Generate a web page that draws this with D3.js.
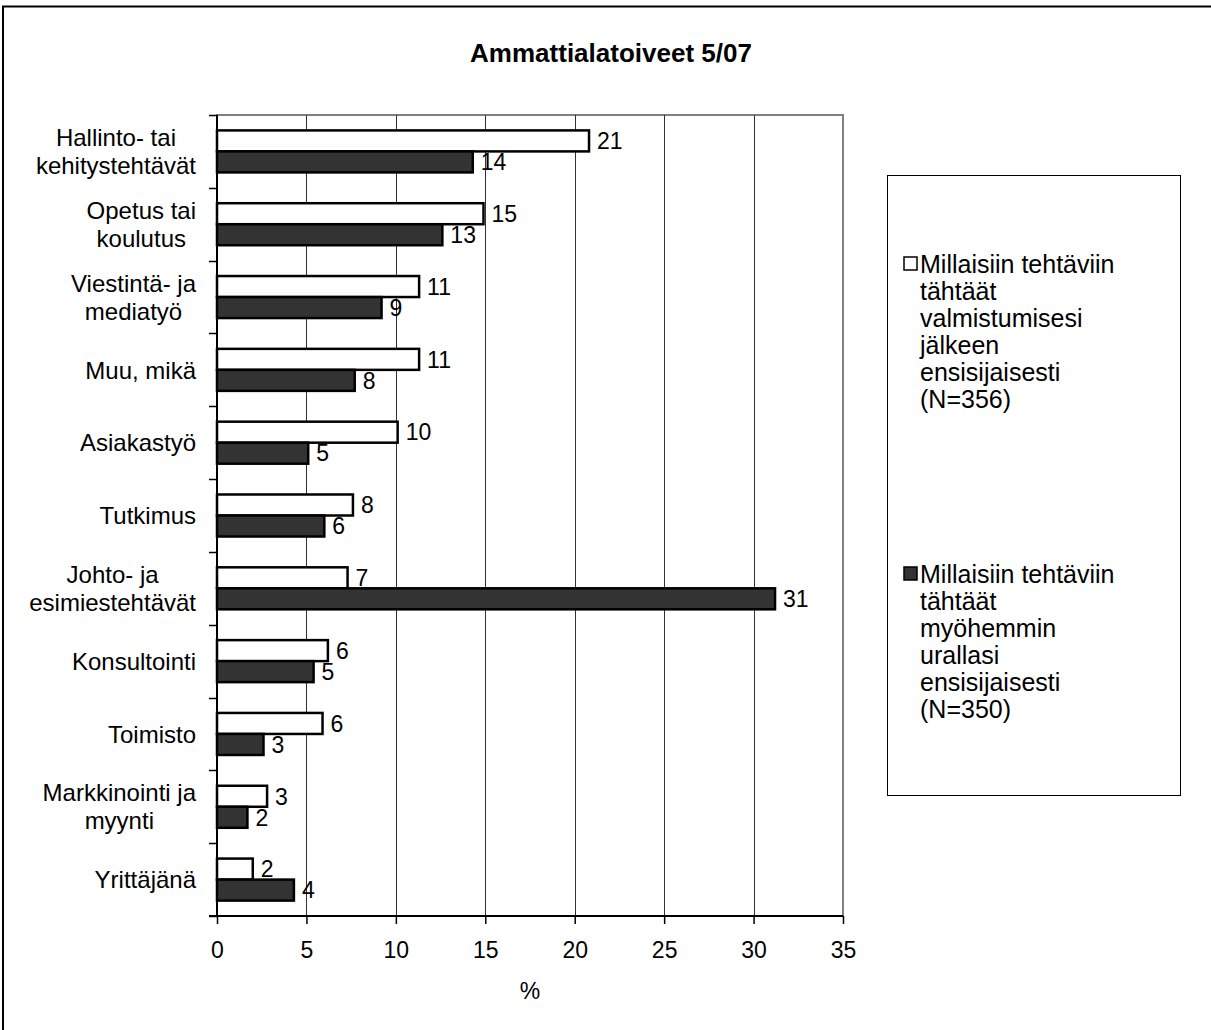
<!DOCTYPE html>
<html>
<head>
<meta charset="utf-8">
<script src="https://cdn.jsdelivr.net/npm/d3@7"></script>
<style>
  html, body { margin: 0; padding: 0; background: #fff; }
  svg { display: block; font-family: Arial, "Liberation Sans", sans-serif; }
</style>
</head>
<body>
<svg id="chart" width="1211" height="1030"></svg>
<script>
// ---- data ----
const categories = [
  ["Hallinto- tai", "kehitystehtävät"],
  ["Opetus tai", "koulutus"],
  ["Viestintä- ja", "mediatyö"],
  ["Muu, mikä"],
  ["Asiakastyö"],
  ["Tutkimus"],
  ["Johto- ja", "esimiestehtävät"],
  ["Konsultointi"],
  ["Toimisto"],
  ["Markkinointi ja", "myynti"],
  ["Yrittäjänä"]
];
const seriesNames = [
  ["Millaisiin tehtäviin", "tähtäät", "valmistumisesi", "jälkeen", "ensisijaisesti", "(N=356)"],
  ["Millaisiin tehtäviin", "tähtäät", "myöhemmin", "urallasi", "ensisijaisesti", "(N=350)"]
];
const valuesGraduation = [20.8, 14.9, 11.3, 11.3, 10.1, 7.6, 7.3, 6.2, 5.9, 2.8, 2.0];
const valuesLater      = [14.3, 12.6, 9.2, 7.7, 5.1, 6.0, 31.2, 5.4, 2.6, 1.7, 4.3];
const xTicks = [0, 5, 10, 15, 20, 25, 30, 35];
const title = "Ammattialatoiveet 5/07";
const xTitle = "%";

// ---- layout ----
const svg = d3.select("#chart");
const W = 1211, H = 1030;
const plot = { left: 217, right: 843, top: 115, bottom: 916 };
const FS = 23, FS_CAT = 24, FS_LEG = 25;

// outer frame
svg.append("rect").attr("x", 3).attr("y", 6.5).attr("width", W + 20).attr("height", H + 20)
  .attr("fill", "none").attr("stroke", "#000").attr("stroke-width", 2);

// title
svg.append("text").attr("x", 611).attr("y", 62).attr("text-anchor", "middle")
  .attr("font-size", 26).attr("font-weight", "bold").text(title);

const catKeys = categories.map(c => c.join(" "));
const x = d3.scaleLinear().domain([0, 35]).range([plot.left, plot.right]);
const y0 = d3.scaleBand().domain(catKeys).range([plot.top, plot.bottom]).padding(0);
const y1 = d3.scaleBand().domain([0, 1]).range([0, y0.bandwidth()]).paddingInner(0).paddingOuter(0.733);

// plot area border
svg.append("rect").attr("x", plot.left).attr("y", plot.top)
  .attr("width", plot.right - plot.left).attr("height", plot.bottom - plot.top)
  .attr("fill", "#fff").attr("stroke", "#808080").attr("stroke-width", 2);

// gridlines
svg.append("g").selectAll("line").data(xTicks.filter(t => t > 0 && t < 35)).join("line")
  .attr("x1", d => Math.round(x(d)) + 0.5).attr("x2", d => Math.round(x(d)) + 0.5)
  .attr("y1", plot.top).attr("y2", plot.bottom)
  .attr("stroke", "#333").attr("stroke-width", 1);

// x axis
const xAxis = svg.append("g").attr("transform", `translate(0,${plot.bottom})`)
  .call(d3.axisBottom(x).tickValues(xTicks).tickSize(8).tickPadding(18).tickFormat(d3.format("d")));
xAxis.select(".domain").attr("stroke", "#000").attr("stroke-width", 2).attr("d", `M${plot.left - 8},0H${plot.right}`);
xAxis.selectAll(".tick line").attr("stroke", "#000").attr("stroke-width", 1.5);
xAxis.selectAll(".tick text").attr("font-size", FS).attr("font-family", "Arial, 'Liberation Sans', sans-serif").attr("fill", "#000");

// y axis line and category ticks
svg.append("line").attr("x1", plot.left).attr("x2", plot.left).attr("y1", plot.top).attr("y2", plot.bottom)
  .attr("stroke", "#000").attr("stroke-width", 2);
const boundaries = catKeys.map(k => y0(k)).concat([plot.bottom]);
svg.append("g").selectAll("line").data(boundaries).join("line")
  .attr("x1", plot.left - 8).attr("x2", plot.left)
  .attr("y1", d => Math.round(d) + 0.5).attr("y2", d => Math.round(d) + 0.5)
  .attr("stroke", "#000").attr("stroke-width", 1.5);

// bars
const rows = catKeys.map((k, i) => ({ k, v: [valuesGraduation[i], valuesLater[i]] }));
const fills = ["#ffffff", "#333333"];
const groups = svg.append("g").selectAll("g").data(rows).join("g")
  .attr("transform", d => `translate(0,${y0(d.k)})`);
groups.selectAll("rect").data(d => d.v.map((v, s) => ({ v, s }))).join("rect")
  .attr("x", x(0)).attr("y", d => y1(d.s))
  .attr("width", d => x(d.v) - x(0)).attr("height", y1.bandwidth())
  .attr("fill", d => fills[d.s]).attr("stroke", "#000").attr("stroke-width", 2.5);
groups.selectAll("text").data(d => d.v.map((v, s) => ({ v, s }))).join("text")
  .attr("x", d => x(d.v) + 8).attr("y", d => y1(d.s) + y1.bandwidth() / 2)
  .attr("dy", "0.36em").attr("font-size", FS).text(d => d3.format(".0f")(d.v));

// category labels (lines centred among themselves, block right-aligned)
const labelRight = 196, lineH = 28;
categories.forEach((lines, i) => {
  const g = svg.append("g");
  const cy = y0(catKeys[i]) + y0.bandwidth() / 2;
  const texts = lines.map((l, j) => g.append("text").attr("font-size", FS_CAT).attr("text-anchor", "middle")
    .attr("y", cy + (j - (lines.length - 1) / 2) * lineH).attr("dy", "0.36em").text(l));
  const maxW = d3.max(texts, t => t.node().getComputedTextLength());
  texts.forEach(t => t.attr("x", labelRight - maxW / 2));
});

// x title
svg.append("text").attr("x", (plot.left + plot.right) / 2).attr("y", 999)
  .attr("text-anchor", "middle").attr("font-size", FS).text(xTitle);

// legend
const lg = svg.append("g");
lg.append("rect").attr("x", 887.5).attr("y", 175.5).attr("width", 293).attr("height", 620)
  .attr("fill", "#fff").attr("stroke", "#000").attr("stroke-width", 1);
const legendTop = [273, 583];
seriesNames.forEach((lines, s) => {
  lg.append("rect").attr("x", 904).attr("y", legendTop[s] - 16).attr("width", 13).attr("height", 13)
    .attr("fill", fills[s]).attr("stroke", "#000").attr("stroke-width", 1.5);
  lines.forEach((l, j) => {
    lg.append("text").attr("x", 920).attr("y", legendTop[s] + j * 27).attr("font-size", FS_LEG).text(l);
  });
});
</script>
</body>
</html>
